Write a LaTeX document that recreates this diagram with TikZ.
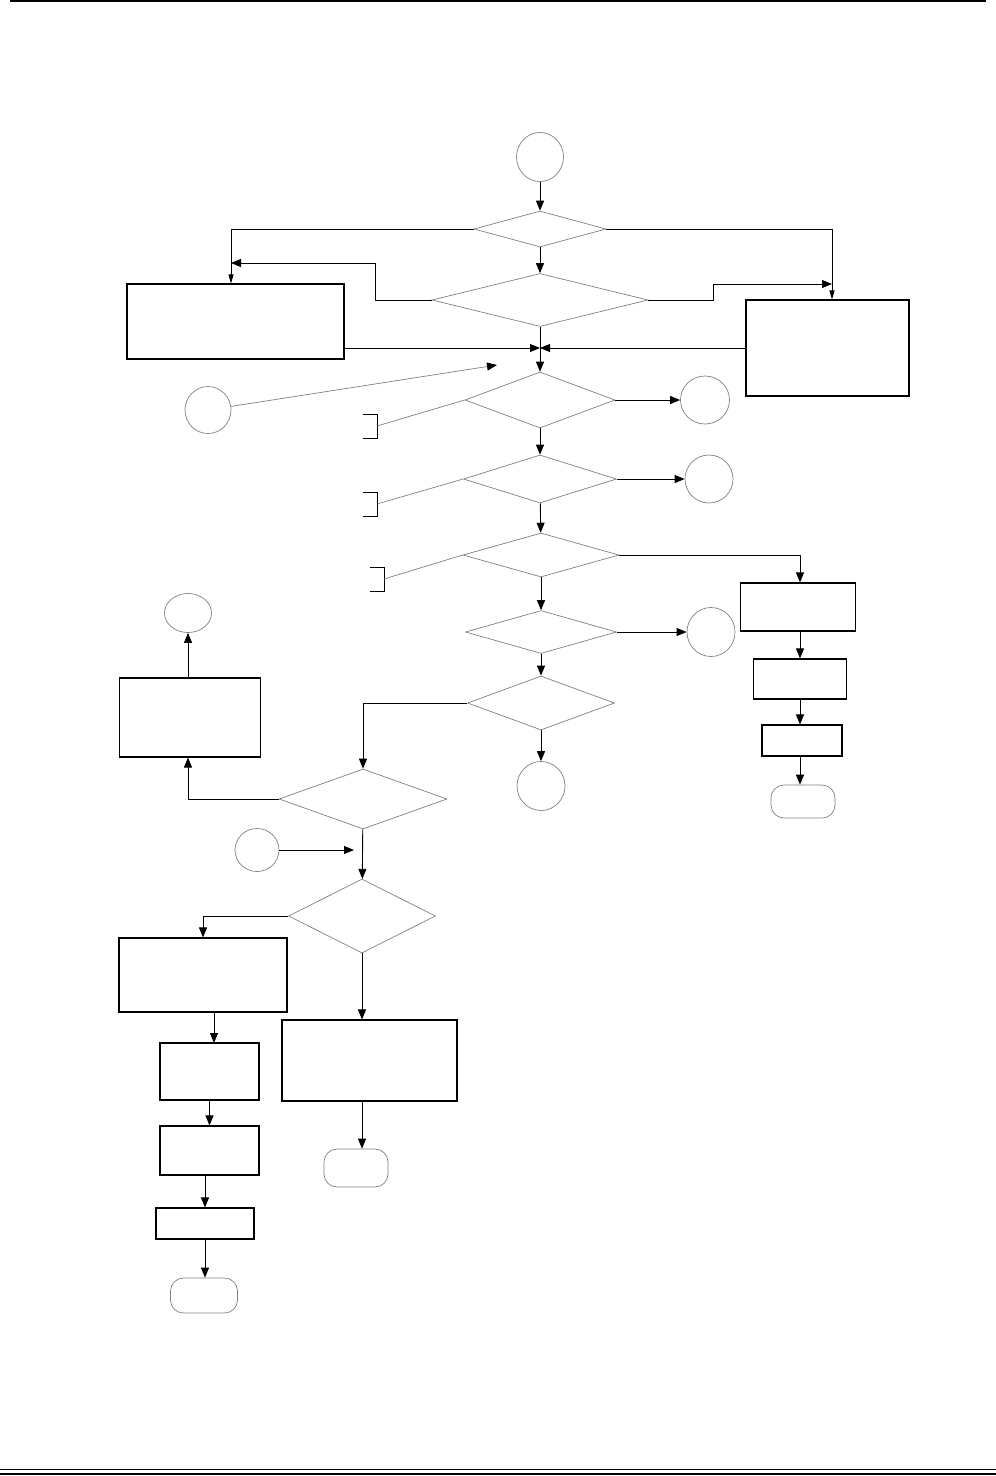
\documentclass[tikz,border=0pt]{standalone}
\usetikzlibrary{shapes.geometric,arrows.meta}

\tikzset{
  test/.style={diamond,draw=gray,line width=0.7pt,inner sep=0pt},
  conn/.style={ellipse,draw=gray,line width=0.7pt,inner sep=0pt},
  term/.style={rectangle,rounded corners=13pt,draw=gray,line width=0.7pt,inner sep=0pt},
  box/.style={rectangle,draw,line width=1.1pt,inner sep=0pt},
  arr/.style={draw,line width=0.9pt,-{Triangle[length=10pt,width=8pt]}},
  thinarr/.style={draw,line width=0.9pt,-{Triangle[length=9pt,width=5pt]}},
  note/.style={draw=gray,line width=0.7pt},
  brk/.style={draw,line width=1pt}
}

\begin{document}
\begin{tikzpicture}[x=1pt,y=-1pt]
\useasboundingbox (0,0) rectangle (996,1476);
\draw[line width=2pt] (10,1) -- (986,1);
\draw[line width=1.8pt] (0,1469.5) -- (996,1469.5);
\draw[line width=1.5pt] (0,1474) -- (996,1474);

\node[conn,minimum width=47,minimum height=49] (c0) at (540,157) {};
\node[test,minimum width=132,minimum height=36] (d1) at (540,229) {};
\node[test,minimum width=216,minimum height=53] (d2) at (540,300) {};
\node[box,minimum width=217,minimum height=75] (b1) at (235.5,321.5) {};
\node[box,minimum width=163,minimum height=96] (b2) at (827.5,348) {};
\node[conn,minimum width=46,minimum height=47] (c1) at (208,410) {};
\node[test,minimum width=150,minimum height=56] (d3) at (540,400) {};
\node[conn,minimum width=49,minimum height=48] (c2) at (705,400) {};
\node[test,minimum width=153,minimum height=48] (d4) at (540,479) {};
\node[conn,minimum width=48,minimum height=48] (c3) at (709,479) {};
\node[test,minimum width=156,minimum height=44] (d5) at (541,555) {};
\node[test,minimum width=151,minimum height=43] (d6) at (541,632) {};
\node[conn,minimum width=48,minimum height=49] (c4) at (711,632) {};
\node[test,minimum width=147,minimum height=54] (d7) at (541,703) {};
\node[conn,minimum width=48,minimum height=49] (c5) at (541,786) {};
\node[box,minimum width=115,minimum height=48] (b3) at (798,607) {};
\node[box,minimum width=93,minimum height=40] (b4) at (800,679) {};
\node[box,minimum width=80,minimum height=31] (b5) at (802,740.5) {};
\node[term,minimum width=64,minimum height=33] (t1) at (803,801.5) {};
\node[conn,minimum width=47,minimum height=39] (c6) at (188,613) {};
\node[box,minimum width=141,minimum height=79] (b6) at (190,717.5) {};
\node[test,minimum width=168,minimum height=60] (d8) at (363,799) {};
\node[conn,minimum width=44,minimum height=43] (c7) at (257,850) {};
\node[test,minimum width=147,minimum height=74] (d9) at (362,916) {};
\node[box,minimum width=168,minimum height=74] (b7) at (203,975) {};
\node[box,minimum width=175,minimum height=81] (b8) at (369.5,1060.5) {};
\node[term,minimum width=64,minimum height=38] (t2) at (356,1168) {};
\node[box,minimum width=99,minimum height=57] (b9) at (209.5,1071.5) {};
\node[box,minimum width=99,minimum height=49] (b10) at (209.5,1150.5) {};
\node[box,minimum width=98,minimum height=31] (b11) at (205,1223.5) {};
\node[term,minimum width=67,minimum height=35] (t3) at (204,1295.5) {};

\coordinate (j1) at (231,263);
\coordinate (j2) at (832,284);
\coordinate (jc) at (540,348);
\coordinate (p1) at (497,365);
\coordinate (p2) at (354,850);
\coordinate (q9) at (214,1043);
\coordinate (k1) at (377,426);
\coordinate (k2) at (377,504);
\coordinate (k3) at (384,579);

\draw[brk] (363,414) -| (377,438) -- (363,438);
\draw[brk] (363,492) -| (377,516) -- (363,516);
\draw[brk] (370,567) -| (384,591) -- (370,591);
\draw[note] (k1) -- (d3.west);
\draw[note] (k2) -- (d4.west);
\draw[note] (k3) -- (d5.west);

\draw[arr] (c0) -- (d1);
\draw[thinarr] (d1.west) -| (j1 |- b1.north);
\draw[thinarr] (d1.east) -| (j2 |- b2.north);
\draw[arr] (d1) -- (d2);
\draw[arr] (d2.west) -- ++(-56,0) |- (j1);
\draw[arr] (d2.east) -- ++(65,0) |- (j2);
\draw[arr] (b1.east |- jc) -- (jc);
\draw[arr] (b2.west |- jc) -- (jc);
\draw[arr] (d2) -- (d3);
\draw[note,-{Triangle[length=10pt,width=8pt,color=black]}] (c1) -- (p1);
\draw[arr] (d3) -- (c2);
\draw[arr] (d3) -- (d4);
\draw[arr] (d4) -- (c3);
\draw[arr] (d4) -- (d5);
\draw[arr] (d5.east) -| (b4.north |- b3.north);
\draw[arr] (b4.north |- b3.south) -- (b4.north);
\draw[arr] (b4.south) -- (b4.south |- b5.north);
\draw[arr] (b4.south |- b5.south) -- (b4.south |- t1.north);
\draw[arr] (d5) -- (d6);
\draw[arr] (d6) -- (c4);
\draw[arr] (d6) -- (d7);
\draw[arr] (d7) -- (c5);
\draw[arr] (d7.west) -| (d8.north);
\draw[arr] (d8.west) -| (c6 |- b6.south);
\draw[arr] (c6 |- b6.north) -- (c6);
\draw[arr] (d8) -- (d9);
\draw[arr] (c7) -- (p2);
\draw[arr] (d9.west) -| (b7.north);
\draw[arr] (d9.south) -- (d9.south |- b8.north);
\draw[arr] (d9.south |- b8.south) -- (d9.south |- t2.north);
\draw[arr] (q9 |- b7.south) -- (q9);
\draw[arr] (b9.south) -- (b9.south |- b10.north);
\draw[arr] (b11.north |- b10.south) -- (b11.north);
\draw[arr] (b11.south) -- (b11.south |- t3.north);
\end{tikzpicture}
\end{document}
